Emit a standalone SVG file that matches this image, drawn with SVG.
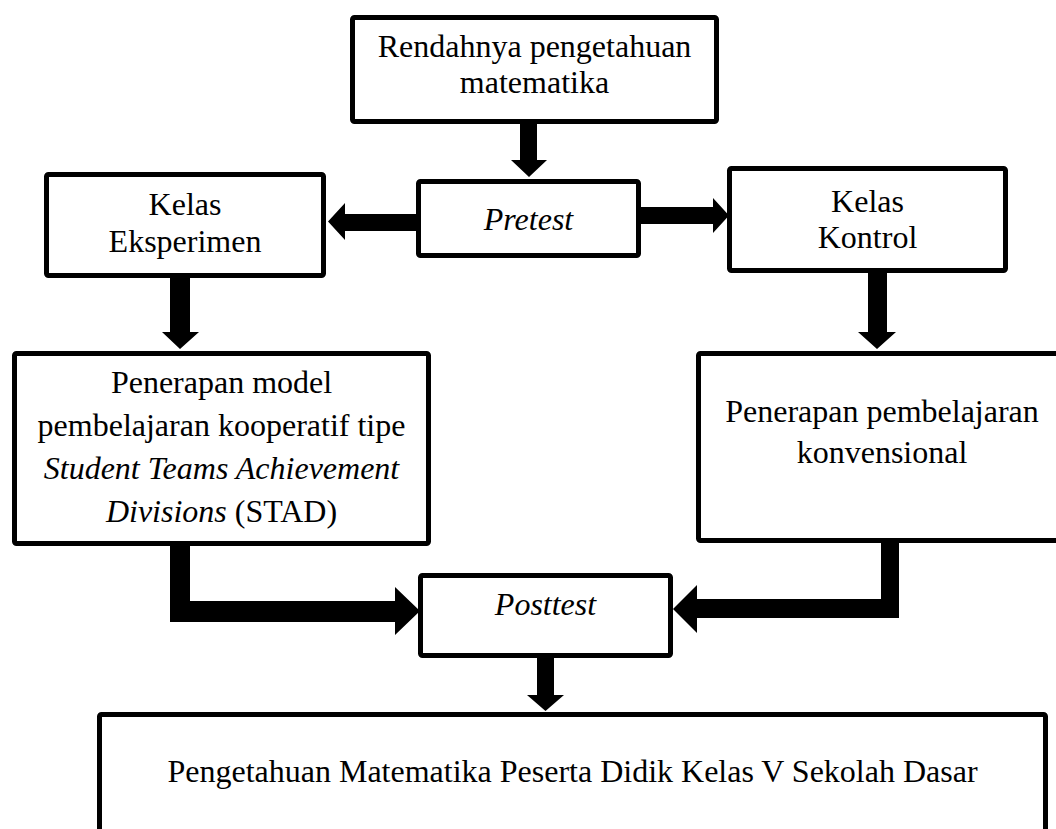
<svg xmlns="http://www.w3.org/2000/svg" width="1056" height="829" viewBox="0 0 1056 829">
<style>
.box{fill:#fff;stroke:#000;stroke-width:5;}
.t{font-family:"Liberation Serif","Times New Roman",serif;font-size:32px;fill:#000;text-anchor:middle;}
.i{font-style:italic;}
.arr{fill:#000;stroke:none;}
</style>
<rect width="1056" height="829" fill="#fff"/>
<g id="n-rendah">
<rect class="box" x="352.5" y="17.5" width="364" height="104" rx="2"/>
<text class="t" x="534.5" y="57">Rendahnya pengetahuan</text>
<text class="t" x="534.5" y="93">matematika</text>
</g>
<g id="n-pretest">
<rect class="box" x="418.5" y="181.5" width="220" height="74" rx="2"/>
<text class="t i" x="528.5" y="230">Pretest</text>
</g>
<g id="n-eksperimen">
<rect class="box" x="46.5" y="174.5" width="277" height="101" rx="2"/>
<text class="t" x="185" y="215">Kelas</text>
<text class="t" x="185" y="252">Eksperimen</text>
</g>
<g id="n-kontrol">
<rect class="box" x="729.5" y="168.5" width="276" height="102" rx="2"/>
<text class="t" x="867.5" y="212">Kelas</text>
<text class="t" x="867.5" y="248">Kontrol</text>
</g>
<g id="n-stad">
<rect class="box" x="14.5" y="353.5" width="414" height="190" rx="2"/>
<text class="t" x="221.5" y="393">Penerapan model</text>
<text class="t" x="221.5" y="436">pembelajaran kooperatif tipe</text>
<text class="t i" x="221.5" y="479">Student Teams Achievement</text>
<text class="t" x="221.5" y="522"><tspan class="i">Divisions</tspan> (STAD)</text>
</g>
<g id="n-konvensional">
<rect class="box" x="698.5" y="353.5" width="380" height="187" rx="2"/>
<text class="t" x="882" y="422">Penerapan pembelajaran</text>
<text class="t" x="882" y="463">konvensional</text>
</g>
<g id="n-posttest">
<rect class="box" x="420.5" y="575.5" width="250" height="80" rx="2"/>
<text class="t i" x="545.5" y="615">Posttest</text>
</g>
<g id="n-hasil">
<rect class="box" x="99.5" y="714.5" width="946" height="140" rx="2"/>
<text class="t" x="572.5" y="782">Pengetahuan Matematika Peserta Didik Kelas V Sekolah Dasar</text>
</g>
<g id="connectors">
<polygon class="arr" points="520,124 537,124 537,160 547,160 529,177 511,160 520,160"/>
<polygon class="arr" points="416,214 416,231 345,231 345,240 328,221.5 345,203 345,214"/>
<polygon class="arr" points="641,207 713,207 713,198 729,215.5 713,233 713,224 641,224"/>
<polygon class="arr" points="170,278 190,278 190,332 199,332 180,349 162,332 170,332"/>
<polygon class="arr" points="868,273 887,273 887,332 896,332 877,349 858,332 868,332"/>
<polygon class="arr" points="170,546 190,546 190,601 395,601 395,587 420,611 395,635 395,622 170,622"/>
<polygon class="arr" points="881,543 899,543 899,618 697,618 697,633 673,609 697,585 697,599 881,599"/>
<polygon class="arr" points="537,658 554,658 554,695 564,695 545.5,711 527,695 537,695"/>
</g>
</svg>
